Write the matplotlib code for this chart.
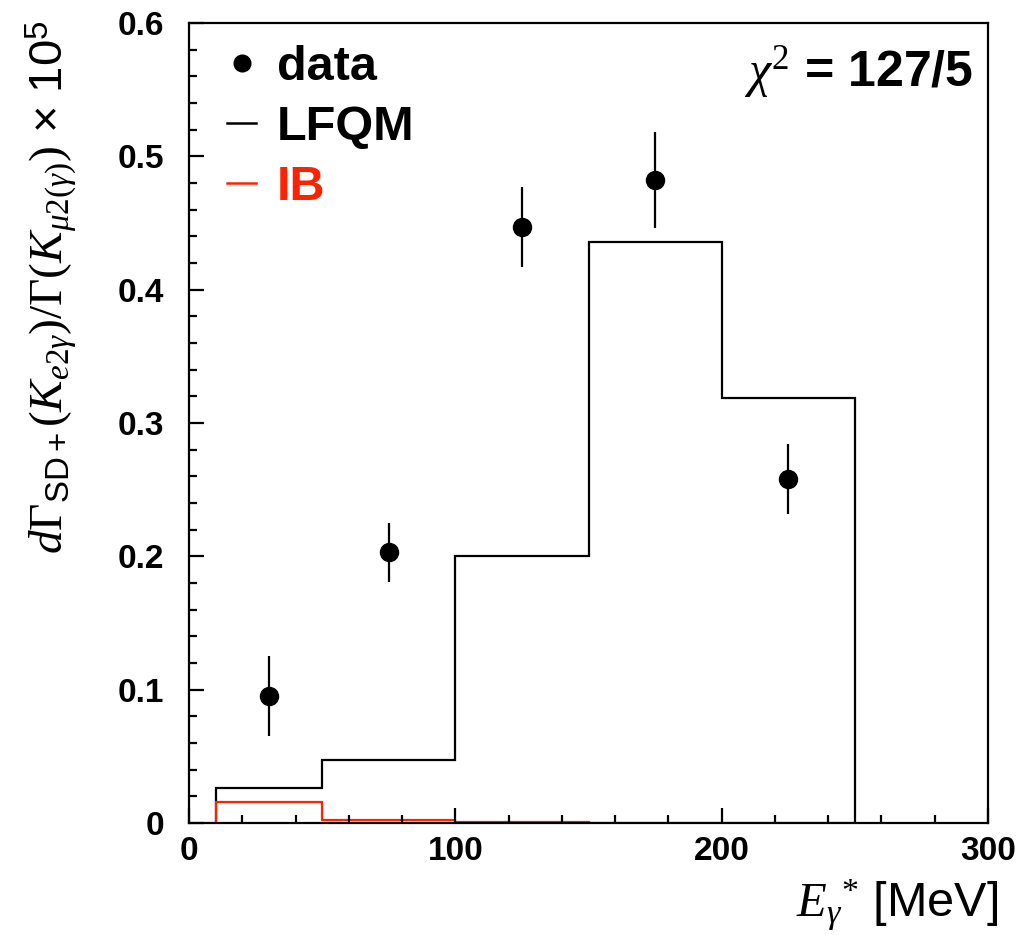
import numpy as np
import matplotlib
matplotlib.use("Agg")
import matplotlib.pyplot as plt
from matplotlib.lines import Line2D

plt.rcParams['font.family'] = ['Liberation Sans', 'DejaVu Sans']
plt.rcParams['mathtext.fontset'] = 'custom'
plt.rcParams['mathtext.rm'] = 'Liberation Serif'
plt.rcParams['mathtext.it'] = 'Liberation Serif:italic'
plt.rcParams['mathtext.bf'] = 'Liberation Serif:bold'
plt.rcParams['mathtext.sf'] = 'Liberation Sans'

# photon energy bins [MeV]
edges = [10, 50, 100, 150, 200, 250]
e_centres = [30, 75, 125, 175, 225]

# measured spectrum (x 1e5) with errors
data_y = [0.095, 0.203, 0.447, 0.482, 0.258]
data_err = [0.030, 0.022, 0.030, 0.036, 0.026]

# model predictions
lfqm = [0.026, 0.047, 0.200, 0.436, 0.319]
ib = [0.016, 0.002, 0.0008, 0.0003, 0.0001]

fig = plt.figure(figsize=(10.34, 9.35), dpi=100)
ax = fig.add_axes([189 / 1034, 1 - 823 / 935, 799 / 1034, 800 / 935])

ax.stairs(lfqm, edges, baseline=0, color='black', lw=1.6)
ax.stairs(ib, edges, baseline=0, color='#ff2200', lw=1.6)
ax.errorbar(e_centres, data_y, yerr=data_err, fmt='o', color='black',
            ms=13, elinewidth=1.6, capsize=0)

ax.set_xlim(0, 300)
ax.set_ylim(0, 0.6)
ax.set_xticks([0, 100, 200, 300])
ax.set_xticks(np.arange(0, 301, 20), minor=True)
ax.set_yticks([0, 0.1, 0.2, 0.3, 0.4, 0.5, 0.6])
ax.set_yticklabels(['0', '0.1', '0.2', '0.3', '0.4', '0.5', '0.6'])
ax.set_yticks(np.arange(0, 0.601, 0.02), minor=True)
ax.tick_params(which='both', direction='in', top=False, right=False,
               width=1.6, labelsize=24)
ax.tick_params(which='major', length=11)
ax.tick_params(which='minor', length=5.5)
ax.tick_params(axis='x', pad=9)
ax.tick_params(axis='y', pad=18)
for lab in ax.get_xticklabels() + ax.get_yticklabels():
    lab.set_fontweight('bold')
for s in ax.spines.values():
    s.set_linewidth(1.6)

fig.text(0.050, 1 - 287 / 935,
         r'$d\Gamma_{\mathsf{SD+}}(K_{e2\gamma})/\Gamma(K_{\mu2(\gamma)})$ × 10$^{\mathsf{5}}$',
         fontsize=34, rotation=90, ha='center', va='center')
fig.text(0.965, 0.019, r'$E_{\gamma}$$^{*}$ [MeV]', fontsize=35, ha='right', va='baseline')

ax.text(0.982, 0.939, r'$\chi^{2}$ = 127/5', transform=ax.transAxes,
        fontsize=36, fontweight='bold', ha='right', va='center')

handles = [
    Line2D([], [], marker='o', ls='none', color='black', ms=12),
    Line2D([], [], color='black', lw=1.8),
    Line2D([], [], color='#ff2200', lw=1.8),
]
leg = ax.legend(handles, ['data', 'LFQM', 'IB'], loc='upper left',
                bbox_to_anchor=(0.0476, 0.972), frameon=False, handlelength=0.6,
                handletextpad=0.42, labelspacing=0.3, borderpad=0,
                borderaxespad=0, prop={'weight': 'bold', 'size': 35})
leg.get_texts()[2].set_color('#ff2200')

fig.savefig('out.png', dpi=100)
